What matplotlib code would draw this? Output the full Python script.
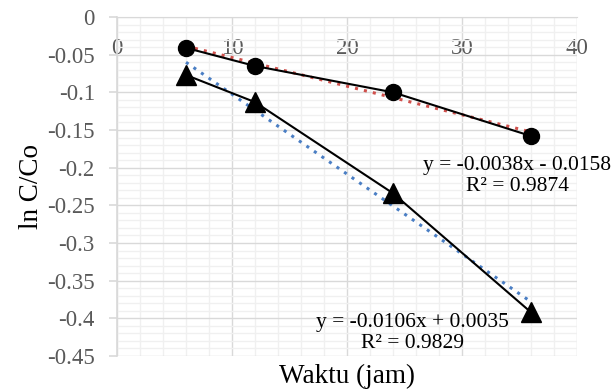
import numpy as np
import matplotlib.pyplot as plt
from matplotlib.ticker import MultipleLocator

# data (waktu dalam jam)
waktu = [6, 12, 24, 36]
ln_c1 = [-0.041, -0.065, -0.100, -0.158]
ln_c2 = [-0.077, -0.113, -0.234, -0.392]

# garis tren (Excel)
m1, b1, r2_1 = -0.0038, -0.0158, 0.9874
m2, b2, r2_2 = -0.0106, 0.0035, 0.9829

y_ticks = [0, -0.05, -0.1, -0.15, -0.2, -0.25, -0.3, -0.35, -0.4, -0.45]
y_labels = ['0', '-0.05', '-0.1', '-0.15', '-0.2', '-0.25', '-0.3', '-0.35', '-0.4', '-0.45']
x_ticks = [0, 10, 20, 30, 40]

plt.rcParams['font.family'] = ['Liberation Serif', 'DejaVu Serif']

fig = plt.figure(figsize=(6.11, 3.92), dpi=100)
ax = fig.add_axes([0.1915, 0.0918, 0.7529, 0.8648])

ax.set_xlim(0, 40)
ax.set_ylim(-0.45, 0)

# grid
ax.xaxis.set_minor_locator(MultipleLocator(2))
ax.yaxis.set_minor_locator(MultipleLocator(0.01))
ax.grid(which='minor', color='#F0F0F0', lw=1.0, zorder=0)
ax.grid(which='major', color='#D9D9D9', lw=1.0, zorder=0)

# trendlines
xt = np.array([waktu[0], waktu[-1]])
ax.plot(xt, m1 * xt + b1, ls=(0, (1, 2)), color='#D0504C', lw=2.2, zorder=2)
ax.plot(xt, m2 * xt + b2, ls=(0, (1, 2)), color='#4A7EC4', lw=2.2, zorder=2)

# series
ax.plot(waktu, ln_c1, '-o', color='black', lw=1.5, ms=11.5, zorder=3)
ax.plot(waktu, ln_c2, '-^', color='black', lw=1.5, ms=14, zorder=3)

# axes
for s in ['right', 'bottom']:
    ax.spines[s].set_visible(False)
ax.spines['top'].set_color('#D9D9D9')
ax.spines['left'].set_color('#D9D9D9')
ax.spines['left'].set_linewidth(1.2)
ax.set_xticks(x_ticks)
ax.set_yticks(y_ticks)
ax.set_yticklabels(y_labels)
ax.tick_params(axis='x', which='both', length=0, labelsize=16.5, colors='#595959')
ax.tick_params(axis='y', which='major', length=6, width=1.2, color='#D9D9D9', labelsize=16.5,
               labelcolor='#595959', pad=10)
ax.tick_params(axis='y', which='minor', length=0)
ax.xaxis.set_ticks_position('top')
ax.xaxis.set_label_position('bottom')
ax.tick_params(axis='x', labeltop=True, labelbottom=False, direction='in', pad=-30)

ax.set_xlabel('Waktu (jam)', fontsize=19.5, labelpad=6)
ax.set_ylabel('ln C/Co', fontsize=19.5, labelpad=2)

# persamaan garis tren
ax.text(34.8, -0.2105, 'y = %.4fx - %.4f\nR² = %.4f' % (m1, abs(b1), r2_1),
        fontsize=15.5, ha='center', va='center', linespacing=1.15, zorder=4)
ax.text(25.7, -0.419, 'y = %.4fx + %.4f\nR² = %.4f' % (m2, b2, r2_2),
        fontsize=15.5, ha='center', va='center', linespacing=1.15, zorder=4)

fig.savefig('out.png', dpi=100)
